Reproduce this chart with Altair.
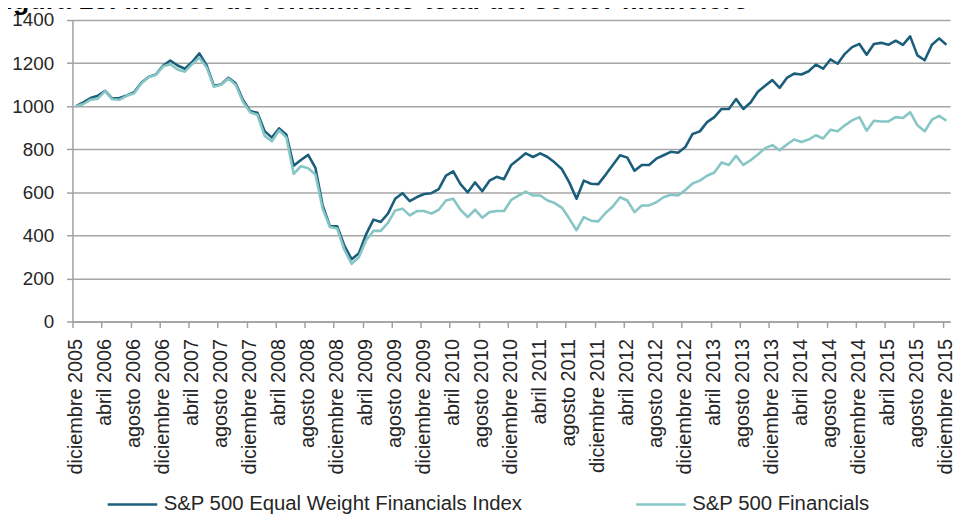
import altair as alt
import pandas as pd

# Month index 0 = diciembre 2005 ... 120 = diciembre 2015
ew_values = [1000, 1018, 1038, 1048, 1071, 1035, 1038, 1050, 1065, 1109,
             1136, 1147, 1189, 1212, 1189, 1174, 1205, 1245, 1189, 1095,
             1101, 1132, 1106, 1030, 977, 969, 884, 854, 897, 867,
             723, 750, 774, 713, 539, 442, 442, 351, 289, 317,
             406, 473, 462, 501, 570, 596, 559, 578, 592, 596,
             615, 677, 697, 638, 600, 646, 605, 654, 672, 661,
             727, 753, 781, 764, 781, 764, 738, 707, 646, 570,
             654, 640, 638, 681, 727, 772, 761, 700, 727, 727,
             756, 772, 788, 784, 810, 871, 883, 926, 949, 987,
             987, 1033, 987, 1017, 1067, 1095, 1121, 1085, 1131, 1151,
             1147, 1162, 1193, 1174, 1217, 1197, 1243, 1274, 1289, 1239,
             1289, 1294, 1285, 1304, 1285, 1324, 1236, 1213, 1285, 1315,
             1285]

fin_values = [1000, 1010, 1030, 1035, 1070, 1032, 1030, 1048, 1060, 1105,
              1135, 1145, 1185, 1195, 1170, 1160, 1195, 1225, 1180, 1090,
              1100, 1128, 1100, 1020, 972, 960, 862, 837, 888, 854,
              686, 721, 712, 683, 524, 439, 432, 332, 268, 299,
              378, 421, 421, 458, 516, 524, 493, 513, 513, 501,
              519, 562, 570, 519, 485, 519, 482, 508, 513, 513,
              565, 585, 603, 585, 585, 562, 550, 528, 478, 424,
              485, 468, 465, 504, 534, 577, 562, 508, 539, 539,
              554, 577, 589, 585, 611, 641, 654, 677, 692, 738,
              727, 769, 727, 749, 776, 805, 819, 795, 822, 845,
              834, 845, 865, 850, 890, 883, 911, 934, 949, 886,
              932, 929, 929, 949, 945, 972, 911, 883, 937, 955,
              932]

series_names = ["S&P 500 Equal Weight Financials Index", "S&P 500 Financials"]
series_colors = ["#1b5e7b", "#86c6c4"]
tick_months = list(range(0, 121, 4))
y_ticks = list(range(0, 1401, 200))
title_text = ["Figura 13: Índices de rendimiento total del sector financiero"]

rows = []
for i, v in enumerate(ew_values):
    rows.append({"m": i + 0.5, "valor": v, "serie": series_names[0]})
for i, v in enumerate(fin_values):
    rows.append({"m": i + 0.5, "valor": v, "serie": series_names[1]})
df = pd.DataFrame(rows)

label_expr = ("['diciembre','abril','agosto'][floor((datum.value % 12) / 4)] + ' ' + "
              "(2005 + floor((datum.value + 11) / 12))")

lines = alt.Chart(df).mark_line(strokeWidth=2.6, strokeJoin="round").encode(
    x=alt.X("m:Q",
            scale=alt.Scale(domain=[0, 121], nice=False, zero=False),
            axis=alt.Axis(values=tick_months, labelExpr=label_expr, labelAngle=270,
                          title=None, grid=False, labelFontSize=20, labelPadding=11,
                          labelOffset=3, tickSize=6, labelColor="#262626",
                          domainColor="#a0a0a0", tickColor="#a0a0a0",
                          domainWidth=1.5, tickWidth=1.5, labelOverlap=False,
                          labelBound=False)),
    y=alt.Y("valor:Q",
            scale=alt.Scale(domain=[0, 1400], nice=False),
            axis=alt.Axis(values=y_ticks, format="d", title=None, grid=True,
                          gridColor="#a6a6a6", gridWidth=1.5, labelFontSize=19,
                          labelPadding=13, tickSize=6, labelColor="#262626",
                          domainColor="#a0a0a0", tickColor="#a0a0a0",
                          domainWidth=1.5, tickWidth=1.5)),
    color=alt.Color("serie:N",
                    scale=alt.Scale(domain=series_names, range=series_colors),
                    sort=series_names,
                    legend=alt.Legend(title=None, orient="none", direction="horizontal",
                                      legendX=34, legendY=462, symbolType="stroke",
                                      symbolSize=2500, symbolStrokeWidth=2.5,
                                      labelFontSize=20.5, labelLimit=600, labelOffset=5,
                                      columnPadding=108, padding=0,
                                      labelColor="#262626")),
)

title_mark = alt.Chart(pd.DataFrame({"t": title_text})).mark_text(
    align="left", baseline="alphabetic", fontSize=27, fontWeight="bold",
    color="#000000",
).encode(
    text="t:N",
    x=alt.value(-84),
    y=alt.value(-11),
)

chart = alt.layer(lines, title_mark).properties(
    width=885,
    height=304,
    autosize=alt.AutoSizeParams(type="none"),
    padding={"left": 65, "top": 10, "right": 6, "bottom": 193},
).configure(
    font="Liberation Sans",
).configure_view(
    stroke=None,
)

chart.save("out.html", embed_options={"renderer": "svg", "actions": False})
